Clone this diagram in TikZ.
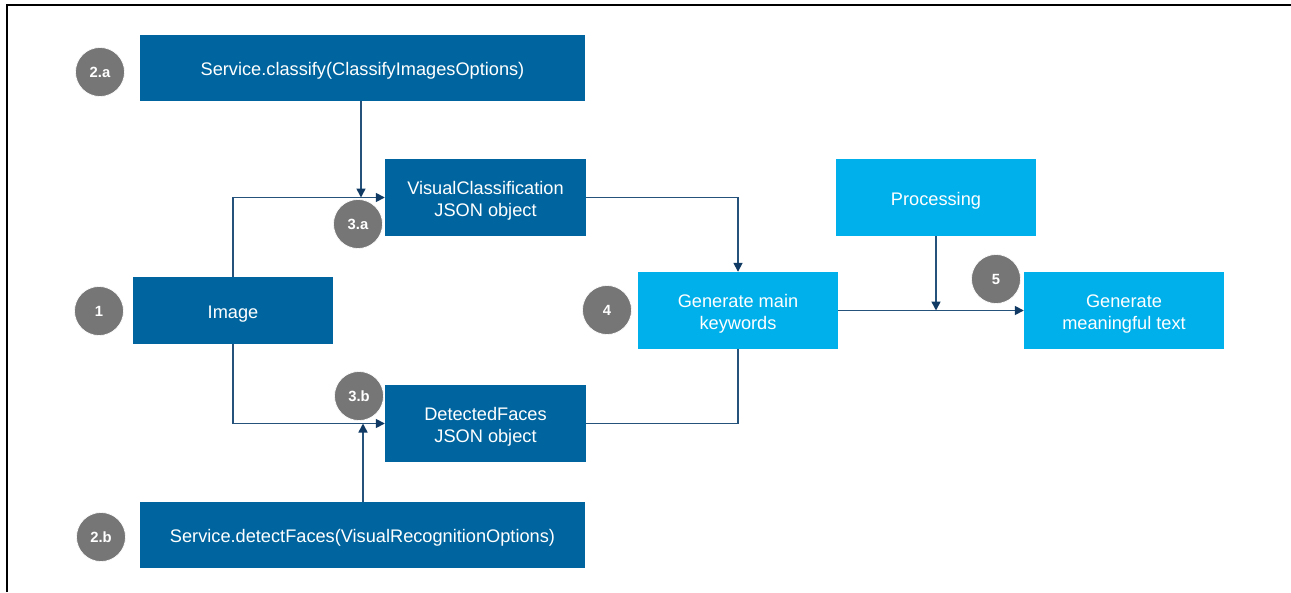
\documentclass[tikz,border=0pt]{standalone}
\usepackage{fontspec}
\setmainfont{Liberation Sans}
\usetikzlibrary{arrows.meta}
\definecolor{darkbox}{HTML}{00659E}
\definecolor{lightbox}{HTML}{00B0EB}
\definecolor{badge}{HTML}{767676}
\definecolor{wire}{HTML}{24527A}
\definecolor{tipcol}{HTML}{103A63}
% centred box caption, set slightly below the middle
\newcommand{\boxtext}[1]{\raisebox{-3.5pt}[\height][\depth]{\begin{tabular}{@{}c@{}}#1\end{tabular}}}
\begin{document}
\begin{tikzpicture}[x=1pt,y=-1pt,
  box/.style={rectangle, inner sep=0pt, text=white,
    font=\fontsize{18.2}{22}\selectfont},
  dbox/.style={box, fill=darkbox},
  lbox/.style={box, fill=lightbox},
  num/.style={circle, fill=badge, draw=white, line width=0.6pt, minimum size=49pt, inner sep=0pt,
    text=white, font=\fontsize{14.8}{16}\selectfont\bfseries},
  link/.style={draw=wire, line width=1.6pt},
  arr/.style={link, -{Triangle[length=9pt,width=9pt,color=tipcol]}}]
\useasboundingbox (0,0) rectangle (1291,592);
\fill[white] (0,0) rectangle (1291,592);
% frame
\draw[line width=2pt] (6.5,592) -- (6.5,4.5) -- (1291,4.5);

% boxes
\node[dbox, minimum width=445pt, minimum height=66pt] (sa) at (362.5,68) {\boxtext{Service.classify(ClassifyImagesOptions)}};
\node[dbox, minimum width=201pt, minimum height=77pt] (vc) at (485.5,197.5) {\boxtext{VisualClassification\\JSON object}};
\node[dbox, minimum width=200pt, minimum height=67pt] (img) at (233,310.5) {\boxtext{Image}};
\node[dbox, minimum width=201pt, minimum height=77pt] (df) at (485.5,423.5) {\boxtext{DetectedFaces\\JSON object}};
\node[dbox, minimum width=445pt, minimum height=66pt] (sb) at (362.5,535) {\boxtext{Service.detectFaces(VisualRecognitionOptions)}};
\node[lbox, minimum width=200pt, minimum height=77pt] (gk) at (738,310.5) {\boxtext{Generate main\\keywords}};
\node[lbox, minimum width=200pt, minimum height=77pt] (pr) at (936,197.5) {\boxtext{Processing}};
\node[lbox, minimum width=200pt, minimum height=77pt] (gt) at (1124,310.5) {\boxtext{Generate\\meaningful text}};

% junction points
\coordinate (ja) at (361,197.5);
\coordinate (jb) at (363,423.5);
\coordinate (jp) at (936,310.5);

% connectors
\draw[arr] (img.north) |- (vc.west);
\draw[arr] (sa.south -| ja) -- (ja);
\draw[arr] (vc.east) -| (gk.north);
\draw[arr] (img.south) |- (df.west);
\draw[arr] (sb.north -| jb) -- (jb);
\draw[link] (df.east) -| (gk.south);
\draw[arr] (gk.east) -- (gt.west);
\draw[arr] (pr.south) -- (jp);

% step badges
\node[num] (n2a) at (100,72) {2.a};
\node[num] (n3a) at (358,224) {3.a};
\node[num] (n1) at (99,311) {1};
\node[num] (n3b) at (359,396) {3.b};
\node[num] (n2b) at (101,537) {2.b};
\node[num] (n4) at (607,310) {4};
\node[num] (n5) at (996,279) {5};
\end{tikzpicture}
\end{document}
